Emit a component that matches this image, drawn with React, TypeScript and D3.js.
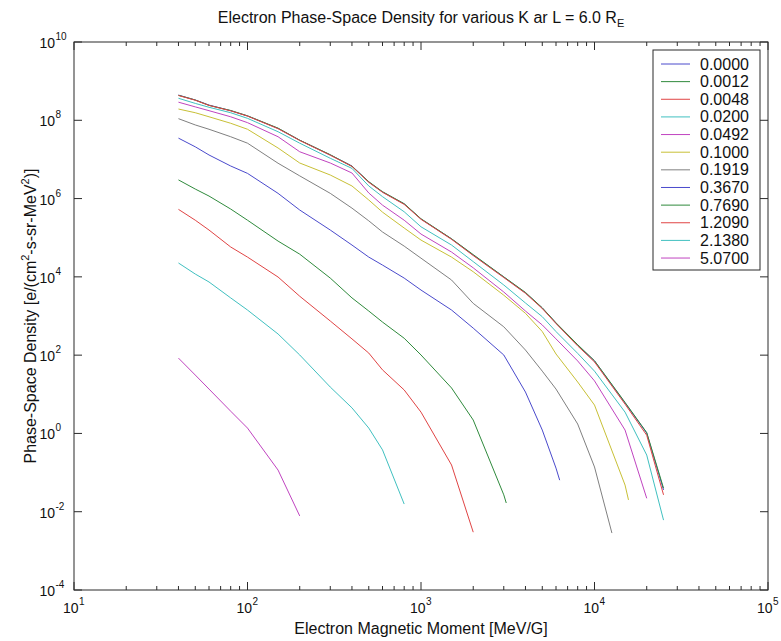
import React from "react";
import * as d3 from "d3";

// ---- data ----
const X_GRID = [40, 50, 60, 80, 100, 150, 200, 300, 400, 500, 600, 800, 1000, 1500, 2000, 3000, 4000, 5000, 6000, 8000, 10000, 15000, 20000, 25000];

const K_LABELS = ["0.0000", "0.0012", "0.0048", "0.0200", "0.0492", "0.1000", "0.1919", "0.3670", "0.7690", "1.2090", "2.1380", "5.0700"];

const PSD_K0000 = [4.4e8, 3.3e8, 2.45e8, 1.76e8, 1.29e8, 6.2e7, 3.1e7, 1.3e7, 6.8e6, 2.65e6, 1.47e6, 7.3e5, 3.0e5, 9.3e4, 3.6e4, 9.9e3, 3.9e3, 1.6e3, 660, 180, 71, 6.0, 1.02, 0.036];
const PSD_K0012 = [4.35e8, 3.3e8, 2.4e8, 1.78e8, 1.3e8, 6.3e7, 3.1e7, 1.32e7, 6.7e6, 2.7e6, 1.5e6, 7.4e5, 3.05e5, 9.4e4, 3.7e4, 1.0e4, 4.0e3, 1.62e3, 670, 185, 72, 6.2, 1.05, 0.04];
const PSD_K0048 = [4.3e8, 3.25e8, 2.4e8, 1.74e8, 1.28e8, 6.1e7, 3.05e7, 1.28e7, 6.6e6, 2.6e6, 1.45e6, 7.1e5, 2.95e5, 9.1e4, 3.5e4, 9.6e3, 3.8e3, 1.55e3, 640, 172, 67, 5.6, 0.9, 0.027];
const PSD_K0200 = [3.65e8, 2.7e8, 2.15e8, 1.56e8, 1.12e8, 5.1e7, 2.6e7, 1.07e7, 5.9e6, 2.1e6, 1.12e6, 4.6e5, 1.9e5, 6.5e4, 2.45e4, 6.2e3, 2.15e3, 960, 400, 111, 39, 3.5, 0.28, 0.0061];
const PSD_K0492 = [2.9e8, 2.2e8, 1.76e8, 1.23e8, 8.7e7, 3.8e7, 1.57e7, 8.1e6, 4.5e6, 1.39e6, 6.8e5, 2.8e5, 1.24e5, 4.3e4, 1.7e4, 4.1e3, 1.34e3, 590, 260, 71, 22, 1.22, 0.022];
const PSD_K1000 = [1.94e8, 1.56e8, 1.23e8, 8.4e7, 5.9e7, 1.96e7, 8.1e6, 4.0e6, 2.1e6, 9.2e5, 4.5e5, 1.77e5, 8.7e4, 3.2e4, 1.35e4, 3.4e3, 1.17e3, 400, 107, 20.6, 5.3, 0.048];
const PSD_K1919 = [1.1e8, 7.6e7, 5.9e7, 3.8e7, 2.6e7, 8.0e6, 3.8e6, 1.36e6, 5.7e5, 2.7e5, 1.4e5, 6.1e4, 3.0e4, 8.3e3, 2.1e3, 530, 135, 39, 13.6, 1.74, 0.139];
const PSD_K3670 = [3.5e7, 2.1e7, 1.3e7, 6.8e6, 4.4e6, 1.36e6, 5.1e5, 1.57e5, 6.5e4, 3.2e4, 2.0e4, 9.3e3, 4.6e3, 1.42e3, 490, 101, 11.4, 1.22, 0.13];
const PSD_K7690 = [3.0e6, 1.75e6, 1.16e6, 5.4e5, 2.8e5, 8.2e4, 3.8e4, 9.3e3, 2.9e3, 1.34e3, 700, 270, 101, 14.5, 2.2, 0.027];
const PSD_K12090 = [5.3e5, 2.8e5, 1.57e5, 5.8e4, 3.2e4, 9.9e3, 3.2e3, 745, 260, 113, 42, 12.9, 3.5, 0.156, 0.003];
const PSD_K21380 = [2.26e4, 1.18e4, 7.4e3, 2.9e3, 1.42e3, 347, 101, 15.3, 4.5, 1.37, 0.38, 0.0157];
const PSD_K50700 = [84, 31, 13.6, 3.7, 1.37, 0.116, 0.0078];

// last point of a curve when it falls between grid values (null = none)
const END_X = [null, null, null, null, null, 15700, 12600, 6300, 3100, null, null, null];
const END_Y = [null, null, null, null, null, 0.02, 0.00285, 0.064, 0.0167, null, null, null];

const SERIES = [PSD_K0000, PSD_K0012, PSD_K0048, PSD_K0200, PSD_K0492, PSD_K1000, PSD_K1919, PSD_K3670, PSD_K7690, PSD_K12090, PSD_K21380, PSD_K50700];

const COLORS = ["#4a4acc", "#2f8a3c", "#e04444", "#40c0c0", "#c044c0", "#c8c036", "#808080", "#4a4acc", "#2f8a3c", "#e04444", "#40c0c0", "#c044c0"];

const X_TICK_EXP = [1, 2, 3, 4, 5];
const Y_TICK_EXP = [-4, -2, 0, 2, 4, 6, 8, 10];
const MINOR_MULT = [2, 3, 4, 5, 6, 7, 8, 9];

const FONT = "'Liberation Sans', Arial, sans-serif";

export default function App() {
  const W = 781, H = 641;
  const L = 74, R = 768, T = 42, B = 590;
  const x = d3.scaleLog().domain([10, 1e5]).range([L, R]);
  const y = d3.scaleLog().domain([1e-4, 1e10]).range([B, T]);
  const line = d3.line<[number, number]>().x(d => x(d[0])).y(d => y(d[1]));

  const minorX: number[] = [];
  [10, 100, 1000, 10000].forEach(dec => MINOR_MULT.forEach(m => minorX.push(dec * m)));

  const axisColor = "#2b2b2b";
  const legX0 = 653, legX1 = 760, legY0 = 50, legY1 = 270;
  const rowY0 = 64, rowDy = 17.64;

  return (
    <svg width={W} height={H} style={{ position: "absolute", left: 0, top: 0, background: "#fff" }} fontFamily={FONT}>
      <rect x={0} y={0} width={W} height={H} fill="#fff" />
      {/* curves */}
      {SERIES.map((vals, i) => {
        const pts: [number, number][] = vals.map((v, j) => [X_GRID[j], v]);
        if (END_X[i] != null) pts.push([END_X[i] as number, END_Y[i] as number]);
        return <path key={i} d={line(pts) || ""} fill="none" stroke={COLORS[i]} strokeWidth={1} />;
      })}
      {/* frame */}
      <rect x={L} y={T} width={R - L} height={B - T} fill="none" stroke={axisColor} strokeWidth={1} />
      {/* x ticks */}
      {X_TICK_EXP.map(e => {
        const px = x(Math.pow(10, e));
        return (
          <g key={"xt" + e}>
            <line x1={px} x2={px} y1={B} y2={B - 8} stroke={axisColor} />
            <line x1={px} x2={px} y1={T} y2={T + 8} stroke={axisColor} />
            <text x={px + 4.5} y={613} fontSize={14} textAnchor="end" fill="#111">10</text>
            <text x={px + 5} y={605} fontSize={10} textAnchor="start" fill="#111">{e}</text>
          </g>
        );
      })}
      {minorX.map(v => {
        const px = x(v);
        return (
          <g key={"xm" + v}>
            <line x1={px} x2={px} y1={B} y2={B - 4} stroke={axisColor} />
            <line x1={px} x2={px} y1={T} y2={T + 4} stroke={axisColor} />
          </g>
        );
      })}
      {/* y ticks */}
      {Y_TICK_EXP.map(e => {
        const py = y(Math.pow(10, e));
        return (
          <g key={"yt" + e}>
            <line x1={L} x2={L + 8} y1={py} y2={py} stroke={axisColor} />
            <line x1={R} x2={R - 8} y1={py} y2={py} stroke={axisColor} />
            <text x={55} y={py + 6} fontSize={14} textAnchor="end" fill="#111">10</text>
            <text x={55.5} y={py - 2} fontSize={10} textAnchor="start" fill="#111">{e}</text>
          </g>
        );
      })}
      {/* title */}
      <text x={(L + R) / 2} y={23} fontSize={16} textAnchor="middle" fill="#111">
        Electron Phase-Space Density for various K ar L = 6.0 R<tspan fontSize={11} dy={4}>E</tspan>
      </text>
      {/* x label */}
      <text x={(L + R) / 2} y={634} fontSize={16} textAnchor="middle" fill="#111">
        Electron Magnetic Moment [MeV/G]
      </text>
      {/* y label */}
      <text transform={`translate(36,${(T + B) / 2}) rotate(-90)`} fontSize={16} textAnchor="middle" fill="#111">
        Phase-Space Density [e/(cm<tspan fontSize={11} dy={-7}>2</tspan><tspan dy={7}>-s-sr-MeV</tspan><tspan fontSize={11} dy={-7}>2</tspan><tspan dy={7}>)]</tspan>
      </text>
      {/* legend */}
      <rect x={legX0} y={legY0} width={legX1 - legX0} height={legY1 - legY0} fill="#fff" stroke={axisColor} strokeWidth={1} />
      {K_LABELS.map((k, i) => {
        const ry = rowY0 + i * rowDy;
        return (
          <g key={"lg" + k}>
            <line x1={661} x2={690} y1={ry} y2={ry} stroke={COLORS[i]} strokeWidth={1} />
            <text x={700} y={ry + 5.5} fontSize={16} fill="#111">{k}</text>
          </g>
        );
      })}
    </svg>
  );
}
